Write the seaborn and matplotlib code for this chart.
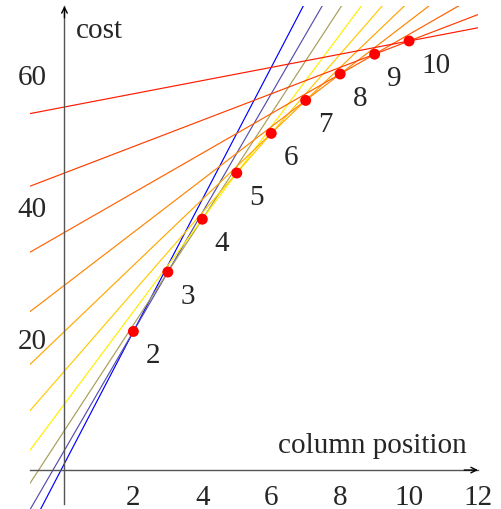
"""Convex-hull style chart: cost per column position with the supporting lines."""
import numpy as np
import pandas as pd
import matplotlib
matplotlib.use("Agg")
import matplotlib.pyplot as plt
from matplotlib.colors import LinearSegmentedColormap
import seaborn as sns

# points (column position, cost)
positions = [2, 3, 4, 5, 6, 7, 8, 9, 10]
costs = [21, 30, 38, 45, 51, 56, 60, 63, 65]

# supporting lines y = intercept + slope * x
slopes = [10, 9, 8, 7, 6, 5, 4, 3, 2, 1]
intercepts = [1, 3, 6, 10, 15, 21, 28, 36, 45, 55]

x_ticks = [2, 4, 6, 8, 10, 12]
y_ticks = [20, 40, 60]

sns.set_style("white")
plt.rcParams["font.family"] = ["Liberation Serif", "DejaVu Serif"]
FS = 21

W, H = 502, 510
fig = plt.figure(figsize=(W / 100, H / 100), dpi=100)
ax = fig.add_axes([30 / W, 0, 448 / W, 503 / H])
ax.set_xlim(-1, 12)
ax.set_ylim(-5.9, 70.3)

# build long table for the lines
xs = np.array([-1.0, 12.0])
rows = []
for i, (s, b) in enumerate(zip(slopes, intercepts)):
    for xv in xs:
        rows.append({"line": i, "x": xv, "y": b + s * xv})
lines_df = pd.DataFrame(rows)

cmap = LinearSegmentedColormap.from_list(
    "byr", [(0, "#0000ff"), (1 / 3, "#ffee00"), (1, "#ff1a00")])
palette = [cmap(i / (len(slopes) - 1)) for i in range(len(slopes))]

sns.lineplot(data=lines_df, x="x", y="y", hue="line", palette=palette,
             legend=False, lw=0.85, ax=ax, sort=False, estimator=None)

pts = pd.DataFrame({"pos": positions, "cost": costs})
sns.scatterplot(data=pts, x="pos", y="cost", color="#ff0000", s=62,
                edgecolor="none", ax=ax, zorder=5, legend=False)

for p, c in zip(positions, costs):
    ax.annotate(str(p), (p, c), xytext=(9, -22), textcoords="offset points",
                ha="left", va="baseline", fontsize=FS)

# axes through the origin
axis_col = "#555555"
for side in ["top", "right"]:
    ax.spines[side].set_visible(False)
ax.spines["left"].set_position(("data", 0))
ax.spines["bottom"].set_position(("data", 0))
ax.spines["left"].set_bounds(-5.2, 70.3)
for side in ["left", "bottom"]:
    ax.spines[side].set_color(axis_col)
    ax.spines[side].set_linewidth(1.0)
ax.annotate("", xy=(12, 0), xytext=(11.6, 0),
            arrowprops=dict(arrowstyle="->", color="black", lw=1.0,
                            shrinkA=0, shrinkB=0), annotation_clip=False)
ax.annotate("", xy=(0, 70.3), xytext=(0, 68.5),
            arrowprops=dict(arrowstyle="->", color="black", lw=1.0,
                            shrinkA=0, shrinkB=0), annotation_clip=False)

ax.set_xticks(x_ticks)
ax.set_yticks(y_ticks)
ax.tick_params(direction="inout", length=8, width=0.8, color="#888888",
               labelsize=FS, pad=6)
ax.tick_params(axis="y", pad=9)
ax.set_xlabel("")
ax.set_ylabel("")

ax.text(0.32, 65.6, "cost", fontsize=FS, ha="left", va="baseline")
ax.text(11.68, 2.7, "column position", fontsize=FS, ha="right", va="baseline")

fig.savefig("out.png", dpi=100)
